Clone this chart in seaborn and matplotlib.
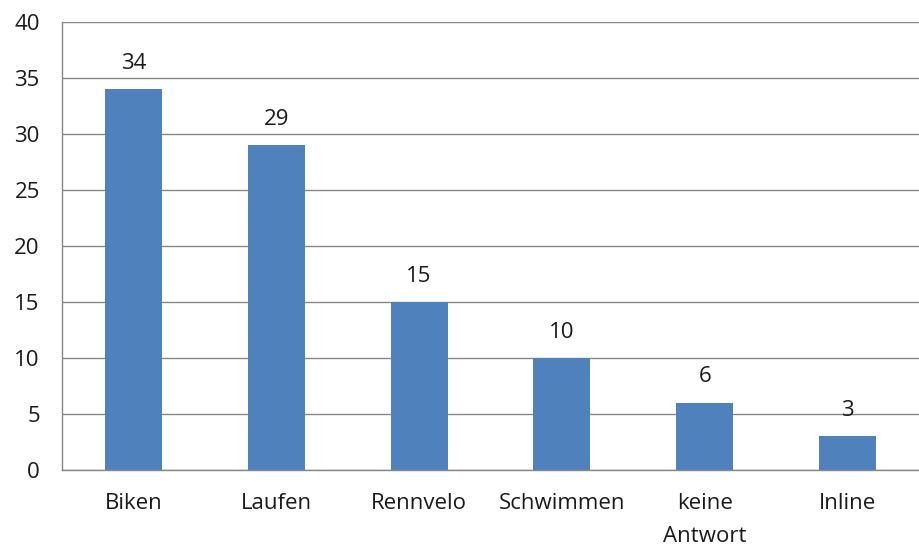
import pandas as pd
from matplotlib import pyplot as plt
import seaborn as sb
import numpy as np

categories = ['Biken', 'Laufen', 'Rennvelo', 'Schwimmen', 'keine\nAntwort', 'Inline']
counts = [34, 29, 15, 10, 6, 3]
yticks = [0, 5, 10, 15, 20, 25, 30, 35, 40]

sb.set_style('white')
plt.rcParams['font.family'] = ['Open Sans', 'DejaVu Sans']

df = pd.DataFrame({'Sport': categories, 'Anzahl': counts})

fig = plt.figure(figsize=(9.19, 5.48), dpi=100)
ax = fig.add_axes([62 / 919, 1 - 469.7 / 548, 1 - 62 / 919, (469.7 - 22.3) / 548])
sb.barplot(data=df, x='Sport', y='Anzahl', color='#4F81BD', saturation=1,
           width=0.40, linewidth=0, ax=ax)

grid_col = '#878787'
txt_col = '#1a1a1a'
fs = 16
ax.set_ylim(0, 40)
ax.set_xlim(-0.5, 5.44)
ax.set_yticks(yticks)
ax.yaxis.grid(True, color=grid_col, linewidth=1)
ax.set_axisbelow(True)
for side in ['top', 'right']:
    ax.spines[side].set_visible(False)
for side in ['left', 'bottom']:
    ax.spines[side].set_color(grid_col)
    ax.spines[side].set_linewidth(1)

ax.set_xlabel('')
ax.set_ylabel('')
ax.tick_params(axis='y', length=6, width=1, color=grid_col, pad=10, labelsize=fs, labelcolor=txt_col)
ax.tick_params(axis='x', which='major', length=0, pad=17, labelsize=fs, labelcolor=txt_col)
ax.set_xticks(np.arange(-0.5, 6, 1), minor=True)
ax.tick_params(axis='x', which='minor', length=6, width=1, color=grid_col)
for lbl in ax.get_xticklabels():
    lbl.set_linespacing(1.75)

ax.bar_label(ax.containers[0], labels=[str(c) for c in counts], padding=11,
             fontsize=fs, color=txt_col)

plt.savefig('out.png', dpi=100)
plt.close()
